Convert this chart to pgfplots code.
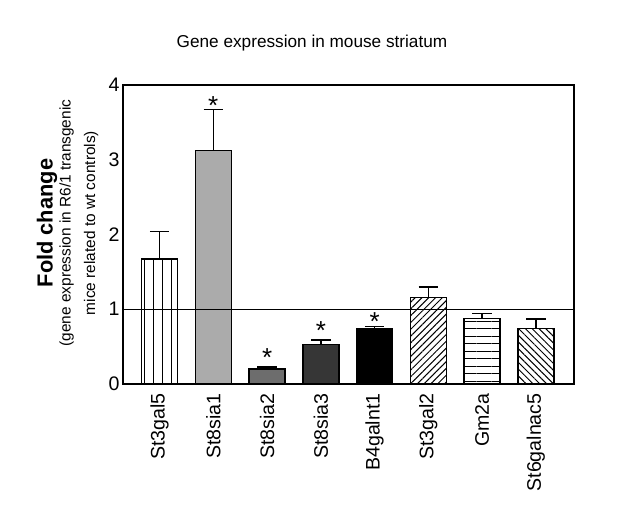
\documentclass[border=0pt]{standalone}
\usepackage{fontspec}
\setmainfont{Liberation Sans}
\usepackage{pgfplots}
\pgfplotsset{compat=1.18}
\usetikzlibrary{patterns.meta}

% upper error bars only, with a short cap
\pgfplotsset{
  errb/.style={
    error bars/.cd,
      y dir=plus, y explicit,
      error bar style={line width=0.7pt, black},
      error mark options={rotate=90, mark size=4.85pt, line width=0.7pt, black},
  },
  barline/.style={draw=black, line width=0.7pt},
}

\begin{document}
\begin{tikzpicture}
\useasboundingbox (0,0) rectangle (316.5pt,258pt);

\begin{axis}[
  at={(61.5pt,66pt)}, anchor=south west,
  scale only axis, width=225.5pt, height=149.5pt,
  xmin=-0.68, xmax=7.71, ymin=0, ymax=4,
  ytick={0,1,2,3,4},
  xtick={0,...,7},
  xticklabels={St3gal5,St8sia1,St8sia2,St8sia3,B4galnt1,St3gal2,Gm2a,St6galnac5},
  ybar, bar width=18pt, bar shift=0pt,
  axis line style={line width=0.8pt},
  major tick length=0pt,
  ytick pos=left,
  /pgf/number format/assume math mode=true,
  yticklabel style={font=\fontsize{9.8}{11}\selectfont, inner sep=1.5pt},
  xticklabel style={rotate=90, anchor=east, font=\fontsize{9.8}{11}\selectfont, inner sep=0pt},
  xticklabel shift=4.5pt,
]

\addplot[barline, pattern={Lines[angle=90, distance=4.5pt, line width=0.5pt]}, errb]
  coordinates {(0,1.67) +- (0,0.37)};
\addplot[barline, fill={rgb,255:red,171;green,171;blue,171}, errb]
  coordinates {(1,3.12) +- (0,0.55)};
\addplot[barline, fill={rgb,255:red,109;green,109;blue,109}, errb]
  coordinates {(2,0.20) +- (0,0.025)};
\addplot[barline, fill={rgb,255:red,54;green,54;blue,54}, errb]
  coordinates {(3,0.53) +- (0,0.06)};
\addplot[barline, fill=black, errb]
  coordinates {(4,0.74) +- (0,0.03)};
\addplot[barline, pattern={Lines[angle=45, distance=2.4pt, line width=0.5pt]}, errb]
  coordinates {(5,1.155) +- (0,0.145)};
\addplot[barline, pattern={Lines[angle=0, distance=3.75pt, line width=0.5pt]}, errb]
  coordinates {(6,0.875) +- (0,0.07)};
\addplot[barline, pattern={Lines[angle=-45, distance=2.4pt, line width=0.5pt]}, errb]
  coordinates {(7,0.745) +- (0,0.125)};

% significance stars
\addplot[sharp plot, draw=none, mark=none,
  nodes near coords={*}, nodes near coords align={center},
  every node near coord/.append style={font=\fontsize{13}{14}\selectfont, anchor=center, inner sep=0pt}]
  coordinates {(1,3.72) (2,0.35) (3,0.71) (4,0.83)};

% reference line at fold change 1
\draw[line width=0.7pt] ({rel axis cs:0,0}|-{axis cs:0,1}) -- ({rel axis cs:1,0}|-{axis cs:0,1});
\end{axis}

\node[font=\fontsize{8.6}{10}\selectfont, anchor=base] at (156pt,234.5pt) {Gene expression in mouse striatum};
\node[font=\fontsize{10.9}{12}\selectfont\bfseries, rotate=90, anchor=base] at (26.3pt,146.5pt) {Fold change};
\node[font=\fontsize{7.7}{9}\selectfont, rotate=90, anchor=base] at (35.3pt,146.5pt) {(gene expression in R6/1 transgenic};
\node[font=\fontsize{7.7}{9}\selectfont, rotate=90, anchor=base] at (47.6pt,146.5pt) {mice related to wt controls)};
\end{tikzpicture}
\end{document}
